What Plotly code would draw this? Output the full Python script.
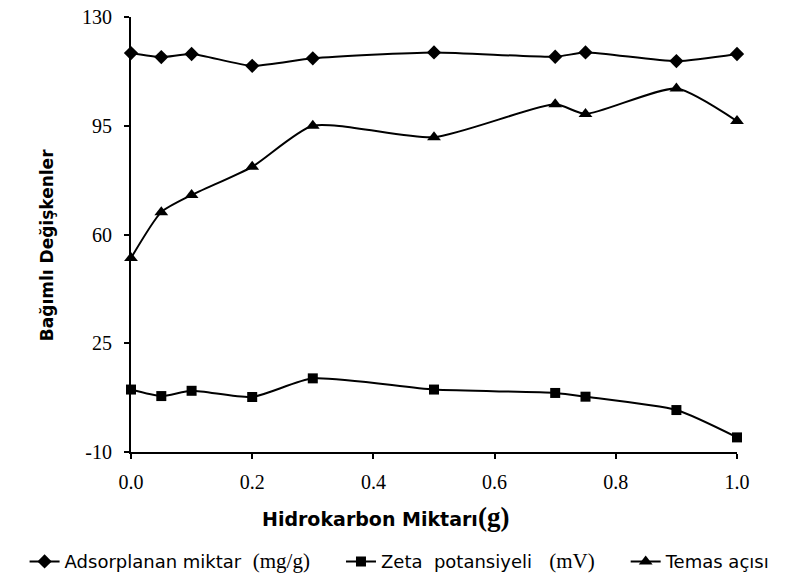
import plotly.graph_objects as go

x_vals = [0.0, 0.05, 0.1, 0.2, 0.3, 0.5, 0.7, 0.75, 0.9, 1.0]
adsorplanan = [118.4, 117.1, 118.1, 114.3, 116.7, 118.6, 117.2, 118.6, 115.8, 118.1]
zeta = [10.1, 8.0, 9.7, 7.7, 13.7, 10.1, 9.0, 7.8, 3.5, -5.3]
temas = [52.4, 67.2, 72.7, 81.8, 95.0, 91.3, 101.9, 98.8, 107.0, 96.5]

names = ["Adsorplanan miktar  <span style='font-family:Liberation Serif;font-size:21px'>(mg/g)</span>",
         "Zeta  potansiyeli   <span style='font-family:Liberation Serif;font-size:21px'>(mV)</span>",
         "Temas açısı"]
y_ticks = [-10, 25, 60, 95, 130]
y_ticktext = ["-10", "25", "60", "95", "130"]
x_ticks = [0.0, 0.2, 0.4, 0.6, 0.8, 1.0]

fig = go.Figure()
series = [(adsorplanan, "diamond", 11), (zeta, "square", 10), (temas, "triangle-up", 12)]
legend_ids = ["legend", "legend2", "legend3"]
for (vals, sym, sz), nm, lg in zip(series, names, legend_ids):
    fig.add_trace(go.Scatter(
        x=x_vals, y=vals, name=nm, mode="lines+markers", legend=lg,
        line=dict(color="black", width=2, shape="spline", smoothing=0.6),
        marker=dict(symbol=sym, size=sz, color="black"),
        cliponaxis=False,
    ))

leg_common = dict(orientation="h", xref="container", yref="container", xanchor="left",
                  y=0.0365, yanchor="middle", font=dict(size=18, family="DejaVu Sans"),
                  bgcolor="rgba(0,0,0,0)")
fig.update_layout(
    width=793, height=583,
    margin=dict(l=131, r=56, t=17, b=131),
    plot_bgcolor="white", paper_bgcolor="white",
    font=dict(family="DejaVu Sans", color="black"),
    showlegend=True,
    legend=dict(x=0.031, **leg_common),
    legend2=dict(x=0.430, **leg_common),
    legend3=dict(x=0.789, **leg_common),
)
fig.update_xaxes(
    range=[0, 1.0], tickvals=x_ticks, ticktext=[f"{v:.1f}" for v in x_ticks],
    showline=True, linecolor="black", linewidth=2, ticks="outside", ticklen=5,
    tickcolor="black", tickwidth=2, showgrid=False, zeroline=False, automargin=False,
    tickfont=dict(family="Liberation Serif", size=20), ticklabelstandoff=6,
    ticklabeloverflow="allow",
    title=dict(text="<b>Hidrokarbon Miktarı</b><span style='font-family:Liberation Serif;font-size:27px'><b>(g)</b></span>" + "&nbsp;" * 16,
               font=dict(size=19, family="DejaVu Sans"), standoff=21),
)
fig.update_yaxes(
    range=[-10, 130], tickvals=y_ticks, ticktext=y_ticktext,
    showline=True, linecolor="black", linewidth=2, ticks="outside", ticklen=5,
    tickcolor="black", tickwidth=2, showgrid=False, zeroline=False, automargin=False,
    tickfont=dict(family="Liberation Serif", size=20), ticklabelstandoff=8,
    ticklabeloverflow="allow",
    title=dict(text="<b>Bağımlı Değişkenler</b>" + "&nbsp;" * 4,
               font=dict(size=17, family="DejaVu Sans"), standoff=24),
)
fig.write_html("out.html", config={"displayModeBar": False},
               post_script="document.body.style.margin='0';")
